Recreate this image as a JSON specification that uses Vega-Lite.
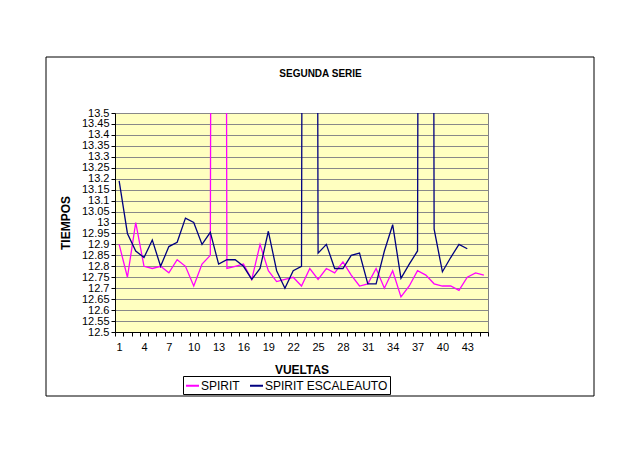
{
  "$schema": "https://vega.github.io/schema/vega-lite/v6.json",
  "width": 373,
  "height": 219,
  "autosize": "none",
  "padding": {"left": 115, "top": 113, "right": 152, "bottom": 121},
  "background": "white",
  "title": {"text": "SEGUNDA SERIE", "fontSize": 10, "font": "Liberation Sans", "fontWeight": "bold", "color": "black", "anchor": "middle", "frame": "group", "dx": 19, "offset": -22},
  "config": {
    "view": {"fill": "#FFFFC0", "stroke": "#808080"},
    "font": "Liberation Sans"
  },
  "layer": [
    {
      "data": {"values": [{}]},
      "mark": {"type": "rect", "fill": "transparent", "stroke": "black", "strokeWidth": 1, "clip": false},
      "encoding": {"x": {"value": -69}, "x2": {"value": 479}, "y": {"value": -56}, "y2": {"value": 283}}
    },
    {
      "data": {"values": [
        {"vuelta": 1, "serie": "SPIRIT", "tiempo": 12.90},
        {"vuelta": 2, "serie": "SPIRIT", "tiempo": 12.75},
        {"vuelta": 3, "serie": "SPIRIT", "tiempo": 13.00},
        {"vuelta": 4, "serie": "SPIRIT", "tiempo": 12.80},
        {"vuelta": 5, "serie": "SPIRIT", "tiempo": 12.79},
        {"vuelta": 6, "serie": "SPIRIT", "tiempo": 12.80},
        {"vuelta": 7, "serie": "SPIRIT", "tiempo": 12.77},
        {"vuelta": 8, "serie": "SPIRIT", "tiempo": 12.83},
        {"vuelta": 9, "serie": "SPIRIT", "tiempo": 12.80},
        {"vuelta": 10, "serie": "SPIRIT", "tiempo": 12.71},
        {"vuelta": 11, "serie": "SPIRIT", "tiempo": 12.81},
        {"vuelta": 12, "serie": "SPIRIT", "tiempo": 12.85},
        {"vuelta": 13, "serie": "SPIRIT", "tiempo": 30.0},
        {"vuelta": 14, "serie": "SPIRIT", "tiempo": 12.79},
        {"vuelta": 15, "serie": "SPIRIT", "tiempo": 12.80},
        {"vuelta": 16, "serie": "SPIRIT", "tiempo": 12.81},
        {"vuelta": 17, "serie": "SPIRIT", "tiempo": 12.74},
        {"vuelta": 18, "serie": "SPIRIT", "tiempo": 12.90},
        {"vuelta": 19, "serie": "SPIRIT", "tiempo": 12.78},
        {"vuelta": 20, "serie": "SPIRIT", "tiempo": 12.73},
        {"vuelta": 21, "serie": "SPIRIT", "tiempo": 12.74},
        {"vuelta": 22, "serie": "SPIRIT", "tiempo": 12.75},
        {"vuelta": 23, "serie": "SPIRIT", "tiempo": 12.71},
        {"vuelta": 24, "serie": "SPIRIT", "tiempo": 12.79},
        {"vuelta": 25, "serie": "SPIRIT", "tiempo": 12.74},
        {"vuelta": 26, "serie": "SPIRIT", "tiempo": 12.79},
        {"vuelta": 27, "serie": "SPIRIT", "tiempo": 12.77},
        {"vuelta": 28, "serie": "SPIRIT", "tiempo": 12.82},
        {"vuelta": 29, "serie": "SPIRIT", "tiempo": 12.76},
        {"vuelta": 30, "serie": "SPIRIT", "tiempo": 12.71},
        {"vuelta": 31, "serie": "SPIRIT", "tiempo": 12.72},
        {"vuelta": 32, "serie": "SPIRIT", "tiempo": 12.79},
        {"vuelta": 33, "serie": "SPIRIT", "tiempo": 12.70},
        {"vuelta": 34, "serie": "SPIRIT", "tiempo": 12.78},
        {"vuelta": 35, "serie": "SPIRIT", "tiempo": 12.66},
        {"vuelta": 36, "serie": "SPIRIT", "tiempo": 12.71},
        {"vuelta": 37, "serie": "SPIRIT", "tiempo": 12.78},
        {"vuelta": 38, "serie": "SPIRIT", "tiempo": 12.76},
        {"vuelta": 39, "serie": "SPIRIT", "tiempo": 12.72},
        {"vuelta": 40, "serie": "SPIRIT", "tiempo": 12.71},
        {"vuelta": 41, "serie": "SPIRIT", "tiempo": 12.71},
        {"vuelta": 42, "serie": "SPIRIT", "tiempo": 12.69},
        {"vuelta": 43, "serie": "SPIRIT", "tiempo": 12.75},
        {"vuelta": 44, "serie": "SPIRIT", "tiempo": 12.77},
        {"vuelta": 45, "serie": "SPIRIT", "tiempo": 12.76},
        {"vuelta": 1, "serie": "SPIRIT ESCALEAUTO", "tiempo": 13.19},
        {"vuelta": 2, "serie": "SPIRIT ESCALEAUTO", "tiempo": 12.95},
        {"vuelta": 3, "serie": "SPIRIT ESCALEAUTO", "tiempo": 12.87},
        {"vuelta": 4, "serie": "SPIRIT ESCALEAUTO", "tiempo": 12.84},
        {"vuelta": 5, "serie": "SPIRIT ESCALEAUTO", "tiempo": 12.92},
        {"vuelta": 6, "serie": "SPIRIT ESCALEAUTO", "tiempo": 12.80},
        {"vuelta": 7, "serie": "SPIRIT ESCALEAUTO", "tiempo": 12.89},
        {"vuelta": 8, "serie": "SPIRIT ESCALEAUTO", "tiempo": 12.91},
        {"vuelta": 9, "serie": "SPIRIT ESCALEAUTO", "tiempo": 13.02},
        {"vuelta": 10, "serie": "SPIRIT ESCALEAUTO", "tiempo": 13.00},
        {"vuelta": 11, "serie": "SPIRIT ESCALEAUTO", "tiempo": 12.90},
        {"vuelta": 12, "serie": "SPIRIT ESCALEAUTO", "tiempo": 12.955},
        {"vuelta": 13, "serie": "SPIRIT ESCALEAUTO", "tiempo": 12.81},
        {"vuelta": 14, "serie": "SPIRIT ESCALEAUTO", "tiempo": 12.83},
        {"vuelta": 15, "serie": "SPIRIT ESCALEAUTO", "tiempo": 12.83},
        {"vuelta": 16, "serie": "SPIRIT ESCALEAUTO", "tiempo": 12.80},
        {"vuelta": 17, "serie": "SPIRIT ESCALEAUTO", "tiempo": 12.74},
        {"vuelta": 18, "serie": "SPIRIT ESCALEAUTO", "tiempo": 12.79},
        {"vuelta": 19, "serie": "SPIRIT ESCALEAUTO", "tiempo": 12.96},
        {"vuelta": 20, "serie": "SPIRIT ESCALEAUTO", "tiempo": 12.78},
        {"vuelta": 21, "serie": "SPIRIT ESCALEAUTO", "tiempo": 12.70},
        {"vuelta": 22, "serie": "SPIRIT ESCALEAUTO", "tiempo": 12.78},
        {"vuelta": 23, "serie": "SPIRIT ESCALEAUTO", "tiempo": 12.80},
        {"vuelta": 24, "serie": "SPIRIT ESCALEAUTO", "tiempo": 30.0},
        {"vuelta": 25, "serie": "SPIRIT ESCALEAUTO", "tiempo": 12.86},
        {"vuelta": 26, "serie": "SPIRIT ESCALEAUTO", "tiempo": 12.90},
        {"vuelta": 27, "serie": "SPIRIT ESCALEAUTO", "tiempo": 12.79},
        {"vuelta": 28, "serie": "SPIRIT ESCALEAUTO", "tiempo": 12.79},
        {"vuelta": 29, "serie": "SPIRIT ESCALEAUTO", "tiempo": 12.85},
        {"vuelta": 30, "serie": "SPIRIT ESCALEAUTO", "tiempo": 12.86},
        {"vuelta": 31, "serie": "SPIRIT ESCALEAUTO", "tiempo": 12.72},
        {"vuelta": 32, "serie": "SPIRIT ESCALEAUTO", "tiempo": 12.72},
        {"vuelta": 33, "serie": "SPIRIT ESCALEAUTO", "tiempo": 12.87},
        {"vuelta": 34, "serie": "SPIRIT ESCALEAUTO", "tiempo": 12.99},
        {"vuelta": 35, "serie": "SPIRIT ESCALEAUTO", "tiempo": 12.745},
        {"vuelta": 36, "serie": "SPIRIT ESCALEAUTO", "tiempo": 12.81},
        {"vuelta": 37, "serie": "SPIRIT ESCALEAUTO", "tiempo": 12.87},
        {"vuelta": 38, "serie": "SPIRIT ESCALEAUTO", "tiempo": 30.0},
        {"vuelta": 39, "serie": "SPIRIT ESCALEAUTO", "tiempo": 12.97},
        {"vuelta": 40, "serie": "SPIRIT ESCALEAUTO", "tiempo": 12.775},
        {"vuelta": 41, "serie": "SPIRIT ESCALEAUTO", "tiempo": 12.84},
        {"vuelta": 42, "serie": "SPIRIT ESCALEAUTO", "tiempo": 12.90},
        {"vuelta": 43, "serie": "SPIRIT ESCALEAUTO", "tiempo": 12.88}
      ]},
      "mark": {"type": "line", "clip": true, "strokeWidth": 1.3},
      "encoding": {
        "x": {
          "field": "vuelta", "type": "ordinal", "sort": "ascending", "bandPosition": 0.5,
          "scale": {"type": "band", "paddingInner": 0, "paddingOuter": 0},
          "axis": {
            "title": "VUELTAS", "tickBand": "extent", "labelAngle": 0, "labelOverlap": false,
            "labelExpr": "(datum.value - 1) % 3 == 0 ? datum.label : ''",
            "tickSize": 4, "labelPadding": 5, "titlePadding": 12, "grid": false,
            "titleFontSize": 12, "titleFontWeight": "bold", "titleColor": "black",
            "labelFontSize": 11, "labelColor": "black", "domainColor": "black", "tickColor": "black"
          }
        },
        "y": {
          "field": "tiempo", "type": "quantitative",
          "scale": {"domain": [12.5, 13.5], "nice": false, "zero": false},
          "axis": {
            "title": "TIEMPOS",
            "values": [12.5, 12.55, 12.6, 12.65, 12.7, 12.75, 12.8, 12.85, 12.9, 12.95, 13, 13.05, 13.1, 13.15, 13.2, 13.25, 13.3, 13.35, 13.4, 13.45, 13.5],
            "format": ".2~f", "labelOverlap": false, "labelBound": false,
            "tickSize": 4, "labelPadding": 2, "titlePadding": 9,
            "grid": true, "gridColor": "#888888", "gridWidth": 1,
            "titleFontSize": 12, "titleFontWeight": "bold", "titleColor": "black",
            "labelFontSize": 11, "labelColor": "black", "domainColor": "black", "tickColor": "black"
          }
        },
        "color": {
          "field": "serie", "type": "nominal",
          "scale": {"domain": ["SPIRIT", "SPIRIT ESCALEAUTO"], "range": ["#FF00FF", "#000080"]},
          "legend": {
            "title": null, "orient": "none", "legendX": 68, "legendY": 263, "direction": "horizontal",
            "strokeColor": "black", "fillColor": "white", "padding": 2,
            "labelFontSize": 12, "labelColor": "black", "symbolType": "stroke", "symbolSize": 169,
            "symbolStrokeWidth": 2, "columnPadding": 6, "labelOffset": 1
          }
        }
      }
    }
  ]
}
